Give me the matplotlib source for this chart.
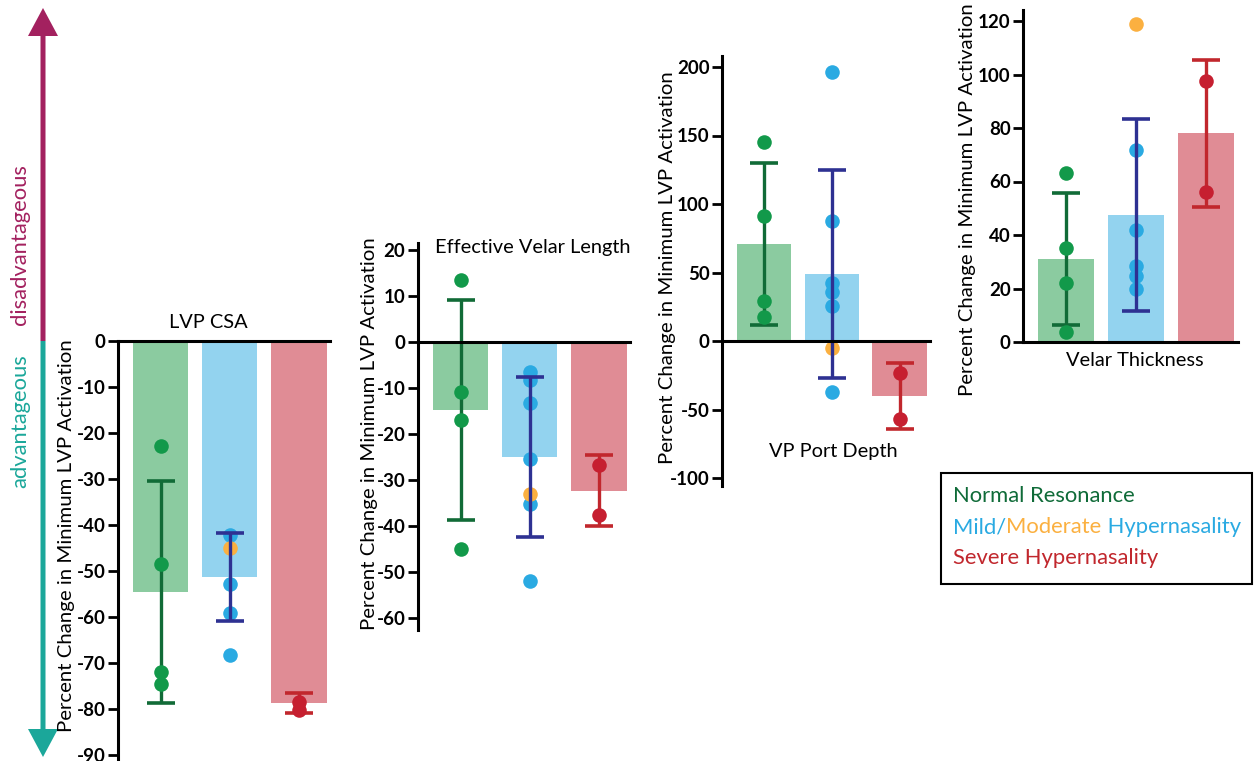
import matplotlib
matplotlib.use("Agg")
import matplotlib.pyplot as plt
from matplotlib.patches import FancyArrow, Rectangle

# ---------------- data ----------------
groups = ["Normal Resonance", "Mild/Moderate Hypernasality", "Severe Hypernasality"]
panel_titles = ["LVP CSA", "Effective Velar Length", "VP Port Depth", "Velar Thickness"]
ylabel = "Percent Change in Minimum LVP Activation"

csa_mean = [-54.6, -51.3, -78.7]
csa_sd = [24.2, 9.6, 2.2]
csa_normal = [-22.8, -48.5, -72.0, -74.6]
csa_mild = [-42.2, -52.8, -59.1, -68.3]
csa_moderate = [-45.0]
csa_severe = [-78.5, -80.2]

evl_mean = [-14.8, -25.0, -32.3]
evl_sd = [24.0, 17.3, 7.7]
evl_normal = [13.5, -10.9, -17.0, -45.0]
evl_mild = [-6.6, -8.3, -13.3, -25.5, -35.3, -52.0]
evl_moderate = [-33.0]
evl_severe = [-26.8, -37.7]

vpd_mean = [70.8, 48.9, -40.0]
vpd_sd = [59.4, 75.9, 24.3]
vpd_normal = [145.0, 91.0, 29.0, 17.8]
vpd_mild = [196.0, 87.6, 42.0, 36.0, 25.6, -37.0]
vpd_moderate = [-5.0]
vpd_severe = [-23.4, -57.0]

vt_mean = [31.0, 47.5, 78.0]
vt_sd = [24.6, 35.9, 27.6]
vt_normal = [63.0, 35.0, 22.0, 3.8]
vt_mild = [71.8, 41.9, 28.5, 24.7, 19.7]
vt_moderate = [119.0]
vt_severe = [97.6, 55.9]

csa_ticks = [0, -10, -20, -30, -40, -50, -60, -70, -80, -90]
evl_ticks = [20, 10, 0, -10, -20, -30, -40, -50, -60]
vpd_ticks = [200, 150, 100, 50, 0, -50, -100]
vt_ticks = [0, 20, 40, 60, 80, 100, 120]

# ---------------- style ----------------
FONT = ["Lato", "DejaVu Sans"]
plt.rcParams["font.family"] = FONT

bar_colors = ["#8BCBA0", "#93D3EF", "#E08C95"]
pt_colors = ["#12994A", "#2AAAE2", "#C61F30"]
moderate_color = "#FBB040"
err_colors = ["#116B37", "#2E3192", "#C1272D"]
err_on_top = [False, True, False]

TITLE_FS = 14.4
YLAB_FS = 14.7
TICK_FS = 13.5
LEG_FS = 15.8

W, H = 1254, 761
fig = plt.figure(figsize=(W / 100, H / 100), dpi=100)


def add_axes_px(left, top, right, bottom):
    return fig.add_axes([left / W, 1 - bottom / H, (right - left) / W, (bottom - top) / H])


def draw_panel(ax, means, sds, normal, mild, moderate, severe, ylim, ticks):
    x = [0, 1, 2]
    ax.bar(x, means, width=0.8, color=bar_colors, zorder=1)
    pts = [normal, mild, severe]
    for i in range(3):
        zerr = 4 if err_on_top[i] else 2
        ax.errorbar([x[i]], [means[i]], yerr=[sds[i]], fmt="none",
                    ecolor=err_colors[i], elinewidth=2.4, capsize=10,
                    capthick=2.6, zorder=zerr, clip_on=False)
        ax.scatter([x[i]] * len(pts[i]), pts[i], s=110, color=pt_colors[i],
                   zorder=3, linewidths=0, clip_on=False)
    ax.scatter([x[1]] * len(moderate), moderate, s=110, color=moderate_color,
               zorder=3, linewidths=0, clip_on=False)
    ax.axhline(0, color="black", lw=2.2, zorder=5, clip_on=False)
    ax.set_xlim(-0.62, 2.45)
    ax.set_ylim(*ylim)
    ax.set_yticks(ticks)
    ax.set_yticklabels([str(t) for t in ticks], fontweight="bold", fontsize=TICK_FS)
    ax.tick_params(axis="y", length=7, width=2, pad=2)
    ax.set_xticks([])
    for s in ["top", "right", "bottom"]:
        ax.spines[s].set_visible(False)
    ax.spines["left"].set_linewidth(2.2)
    ax.patch.set_alpha(0)


# Panel 1: LVP CSA
ax1 = add_axes_px(118, 341, 330, 761)
draw_panel(ax1, csa_mean, csa_sd, csa_normal, csa_mild, csa_moderate, csa_severe,
           (-91.3, 0), csa_ticks)
fig.text(208 / W, 1 - 323 / H, panel_titles[0], ha="center", va="center", fontsize=TITLE_FS)
fig.text(67 / W, 1 - 536 / H, ylabel, rotation=90, ha="center", va="center", fontsize=YLAB_FS)

# Panel 2: Effective Velar Length
ax2 = add_axes_px(418, 342 - 21.5 * 4.6, 630, 342 + 62.5 * 4.6)
draw_panel(ax2, evl_mean, evl_sd, evl_normal, evl_mild, evl_moderate, evl_severe,
           (-62.5, 21.5), evl_ticks)
fig.text(435 / W, 1 - 248 / H, panel_titles[1], ha="left", va="center", fontsize=TITLE_FS)
fig.text(370 / W, 1 - 434 / H, ylabel, rotation=90, ha="center", va="center", fontsize=YLAB_FS)

# Panel 3: VP Port Depth
s3 = 1.37
ax3 = add_axes_px(722, 341 - 208 * s3, 930, 341 + 106 * s3)
draw_panel(ax3, vpd_mean, vpd_sd, vpd_normal, vpd_mild, vpd_moderate, vpd_severe,
           (-106, 208), vpd_ticks)
fig.text(833 / W, 1 - 452 / H, panel_titles[2], ha="center", va="center", fontsize=TITLE_FS)
fig.text(668 / W, 1 - 268 / H, ylabel, rotation=90, ha="center", va="center", fontsize=YLAB_FS)

# Panel 4: Velar Thickness
s4 = 2.675
ax4 = add_axes_px(1023, 342 - 124 * s4, 1238, 342)
draw_panel(ax4, vt_mean, vt_sd, vt_normal, vt_mild, vt_moderate, vt_severe,
           (0, 124), vt_ticks)
fig.text(1135 / W, 1 - 361 / H, panel_titles[3], ha="center", va="center", fontsize=TITLE_FS)
fig.text(968 / W, 1 - 200 / H, ylabel, rotation=90, ha="center", va="center", fontsize=YLAB_FS)

# ---------------- left arrow ----------------
magenta = "#A3215F"
teal = "#1BA79A"
ax_arrow = fig.add_axes([0, 0, 1, 1])
ax_arrow.set_xlim(0, W)
ax_arrow.set_ylim(H, 0)
ax_arrow.axis("off")
ax_arrow.patch.set_alpha(0)
ax_arrow.add_patch(FancyArrow(43, 341, 0, -333, width=5, head_width=30, head_length=28,
                              length_includes_head=True, color=magenta, lw=0))
ax_arrow.add_patch(FancyArrow(43, 341, 0, 416, width=5, head_width=30, head_length=28,
                              length_includes_head=True, color=teal, lw=0))
fig.text(20 / W, 1 - 245 / H, "disadvantageous", rotation=90, ha="center", va="center",
         fontsize=15.8, color=magenta)
fig.text(20 / W, 1 - 421 / H, "advantageous", rotation=90, ha="center", va="center",
         fontsize=15.8, color=teal)

# ---------------- legend box ----------------
ax_arrow.add_patch(Rectangle((941, 473), 311, 111, fill=False, edgecolor="black", lw=1.5))
leg_x = 953
ax_arrow.text(leg_x, 496, "Normal Resonance", color="#0F6B38", fontsize=LEG_FS,
              va="center", ha="left")
t_a = ax_arrow.text(leg_x, 527, "Mild/", color="#2AAAE2", fontsize=LEG_FS, va="center", ha="left")
fig.canvas.draw()
r = fig.canvas.get_renderer()
bb = t_a.get_window_extent(r)
x2 = leg_x + bb.width
t_b = ax_arrow.text(x2, 527, "Moderate", color=moderate_color, fontsize=LEG_FS, va="center", ha="left")
bb2 = t_b.get_window_extent(r)
x3 = x2 + bb2.width
ax_arrow.text(x3, 527, " Hypernasality", color="#2AAAE2", fontsize=LEG_FS, va="center", ha="left")
ax_arrow.text(leg_x, 558, "Severe Hypernasality", color="#C1272D", fontsize=LEG_FS,
              va="center", ha="left")

fig.savefig("out.png", dpi=100)
